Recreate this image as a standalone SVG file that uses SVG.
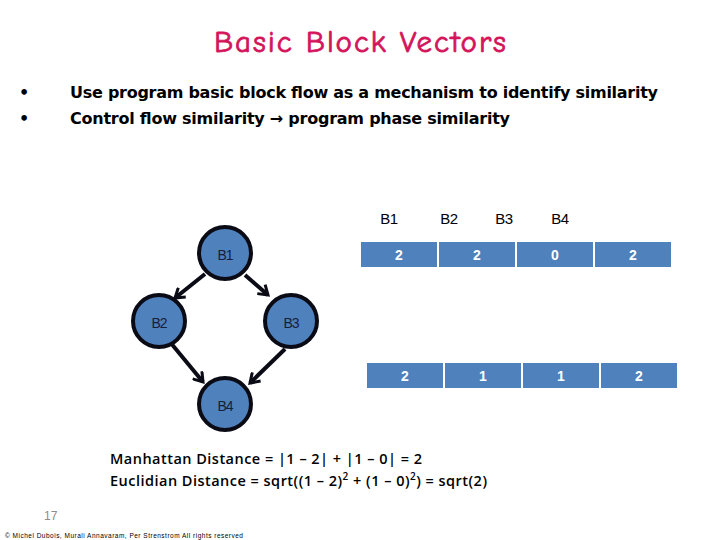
<svg xmlns="http://www.w3.org/2000/svg" width="720" height="540" viewBox="0 0 720 540">
<defs>
<style>
.title{font-family:"Comic Neue","Liberation Sans",sans-serif;font-size:31px;fill:#D4145A;stroke:#D4145A;stroke-width:0.8}
.bul{font-family:"DejaVu Sans",sans-serif;font-weight:bold;font-size:16px;fill:#000}
.dot{font-family:"DejaVu Sans",sans-serif;font-weight:bold;font-size:16px;fill:#000}
.node circle{fill:#4F81BD;stroke:#0B0B16;stroke-width:4}
.node text{font-family:"Liberation Sans",sans-serif;font-size:14px;fill:#16203A;text-anchor:middle;letter-spacing:-1px}
.cell{fill:#4F81BD}
.cv{font-family:"Liberation Sans",sans-serif;font-weight:bold;font-size:14px;fill:#fff;text-anchor:middle}
.hdr{font-family:"Liberation Sans",sans-serif;font-size:15px;fill:#000;text-anchor:middle;letter-spacing:-0.5px}
.formula{font-family:"Open Sans","Liberation Sans",sans-serif;font-weight:600;font-size:14.5px;fill:#000}
.edge{stroke:#0B0B16;stroke-width:4;fill:none}
</style>
<marker id="ah" markerWidth="14" markerHeight="14" refX="11" refY="7" orient="auto" markerUnits="userSpaceOnUse">
<path d="M2,1 L11,7 L2,13" fill="none" stroke="#0B0B16" stroke-width="3"/>
</marker>
</defs>
<rect width="720" height="540" fill="#fff"/>
<text class="title" x="360" y="52" text-anchor="middle" textLength="292">Basic Block Vectors</text>
<text class="dot" x="19" y="98">•</text>
<text class="bul" x="70" y="98" textLength="588">Use program basic block flow as a mechanism to identify similarity</text>
<text class="dot" x="19" y="124">•</text>
<text class="bul" x="70" y="124" textLength="440">Control flow similarity → program phase similarity</text>

<g id="connectors">
<line class="edge" x1="205" y1="274" x2="175" y2="298" marker-end="url(#ah)"/>
<line class="edge" x1="245" y1="275" x2="268" y2="295" marker-end="url(#ah)"/>
<line class="edge" x1="170" y1="342" x2="203" y2="382" marker-end="url(#ah)"/>
<line class="edge" x1="285" y1="349" x2="250" y2="383" marker-end="url(#ah)"/>
</g>
<g id="node-B1" class="node"><circle cx="225" cy="253" r="26"/><text x="225" y="260">B1</text></g>
<g id="node-B2" class="node"><circle cx="159" cy="321" r="26"/><text x="159" y="328">B2</text></g>
<g id="node-B3" class="node"><circle cx="291" cy="321" r="26"/><text x="291" y="328">B3</text></g>
<g id="node-B4" class="node"><circle cx="225" cy="404" r="26"/><text x="225" y="411">B4</text></g>

<g id="header">
<text class="hdr" x="389" y="224">B1</text>
<text class="hdr" x="449" y="224">B2</text>
<text class="hdr" x="504" y="224">B3</text>
<text class="hdr" x="560" y="224">B4</text>
</g>
<g id="vector1">
<rect class="cell" x="361" y="242" width="76" height="25"/>
<rect class="cell" x="439" y="242" width="76" height="25"/>
<rect class="cell" x="517" y="242" width="76" height="25"/>
<rect class="cell" x="595" y="242" width="76" height="25"/>
<text class="cv" x="399" y="260">2</text>
<text class="cv" x="477" y="260">2</text>
<text class="cv" x="555" y="260">0</text>
<text class="cv" x="633" y="260">2</text>
</g>
<g id="vector2">
<rect class="cell" x="367" y="363" width="76" height="25"/>
<rect class="cell" x="445" y="363" width="76" height="25"/>
<rect class="cell" x="523" y="363" width="76" height="25"/>
<rect class="cell" x="601" y="363" width="76" height="25"/>
<text class="cv" x="405" y="381">2</text>
<text class="cv" x="483" y="381">1</text>
<text class="cv" x="561" y="381">1</text>
<text class="cv" x="639" y="381">2</text>
</g>
<text class="formula" x="110" y="464" textLength="312">Manhattan Distance = |1 – 2| + |1 – 0| = 2</text>
<text class="formula" x="110" y="486" textLength="377">Euclidian Distance = sqrt((1 – 2)<tspan font-size="10" dy="-6">2</tspan><tspan dy="6"> + (1 – 0)</tspan><tspan font-size="10" dy="-6">2</tspan><tspan dy="6">) = sqrt(2)</tspan></text>
<text x="44" y="520" font-family="Liberation Sans, sans-serif" font-size="12" fill="#8C8C8C">17</text>
<text x="5" y="538" font-family="Liberation Sans, sans-serif" font-size="6.5" fill="#000" textLength="238">© Michel Dubois, Murali Annavaram, Per Strenstrom All rights reserved</text>
</svg>
